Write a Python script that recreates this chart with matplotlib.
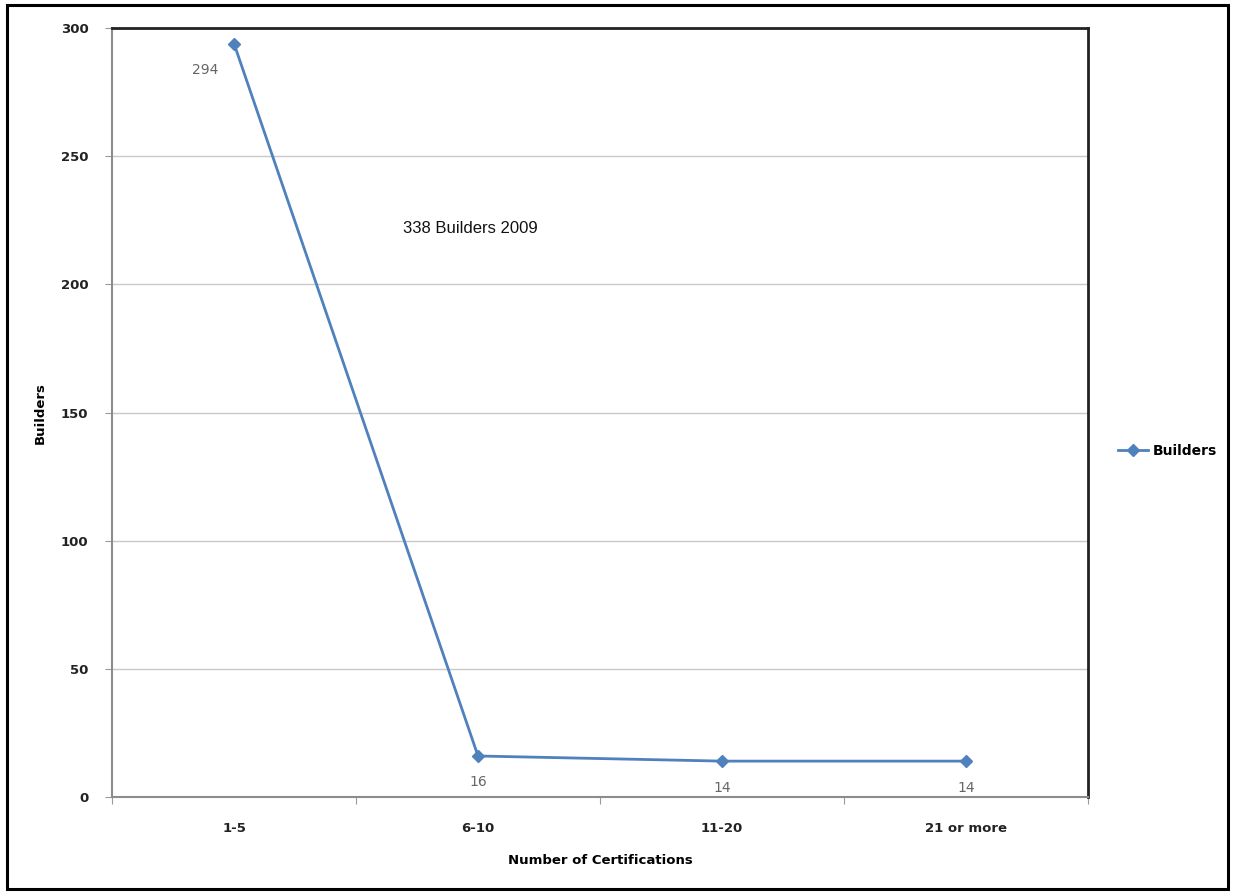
import matplotlib.pyplot as plt
from matplotlib.patches import Rectangle

categories = ["1-5", "6-10", "11-20", "21 or more"]
builders = [294, 16, 14, 14]
yticks = [0, 50, 100, 150, 200, 250, 300]

blue = "#4F81BD"
fig = plt.figure(figsize=(12.35, 8.96), dpi=100)
fig.patches.append(Rectangle((0.006, 0.008), 0.988, 0.986, transform=fig.transFigure,
                             fill=False, edgecolor="black", linewidth=2.2))

ax = fig.add_axes([0.0907, 0.1105, 0.7903, 0.858])
x = list(range(len(categories)))
line, = ax.plot(x, builders, color=blue, linewidth=2, marker="D", markersize=6, label="Builders")

ax.set_xlim(-0.5, len(categories) - 0.5)
ax.set_ylim(0, 300)
ax.set_yticks(yticks)
ax.set_yticklabels([str(v) for v in yticks], fontweight="bold", fontsize=9.5, color="#222222")
ax.set_xticks([i - 0.5 for i in range(len(categories) + 1)])
ax.set_xticklabels([])
ax.set_xticks(x, minor=True)
ax.set_xticklabels(categories, minor=True, fontweight="bold", fontsize=9.5, color="#222222")
ax.tick_params(axis="x", which="minor", length=0, pad=18)
ax.tick_params(axis="x", which="major", length=5, color="#999999", direction="out")
ax.tick_params(axis="y", length=5, color="#999999", direction="out", pad=12)
ax.grid(axis="y", color="#c8c8c8", linewidth=1)
ax.set_axisbelow(True)

for s in ["left", "bottom"]:
    ax.spines[s].set_color("#8c8c8c")
    ax.spines[s].set_linewidth(1.5)
for s in ["top", "right"]:
    ax.spines[s].set_color("#222222")
    ax.spines[s].set_linewidth(2)

ax.set_xlabel("Number of Certifications", fontweight="bold", fontsize=9.5, labelpad=14)
ax.set_ylabel("Builders", fontweight="bold", fontsize=9.5, labelpad=10)

offsets = [(-21, -19), (0, -19), (0, -19), (0, -19)]
for xi, yi, (dx, dy) in zip(x, builders, offsets):
    ax.annotate(str(yi), (xi, yi), xytext=(dx, dy), textcoords="offset points",
                ha="center", va="center", fontsize=10, color="#666666")

ax.text(0.97, 222, "338 Builders 2009", ha="center", va="center",
        fontsize=12, family="Liberation Sans", color="#111111")

fig.legend(handles=[line], loc="center left", bbox_to_anchor=(0.895, 0.497),
           frameon=False, prop={"weight": "bold", "size": 10}, handlelength=2.2,
           handletextpad=0.3)

fig.savefig("out.png", dpi=100)
